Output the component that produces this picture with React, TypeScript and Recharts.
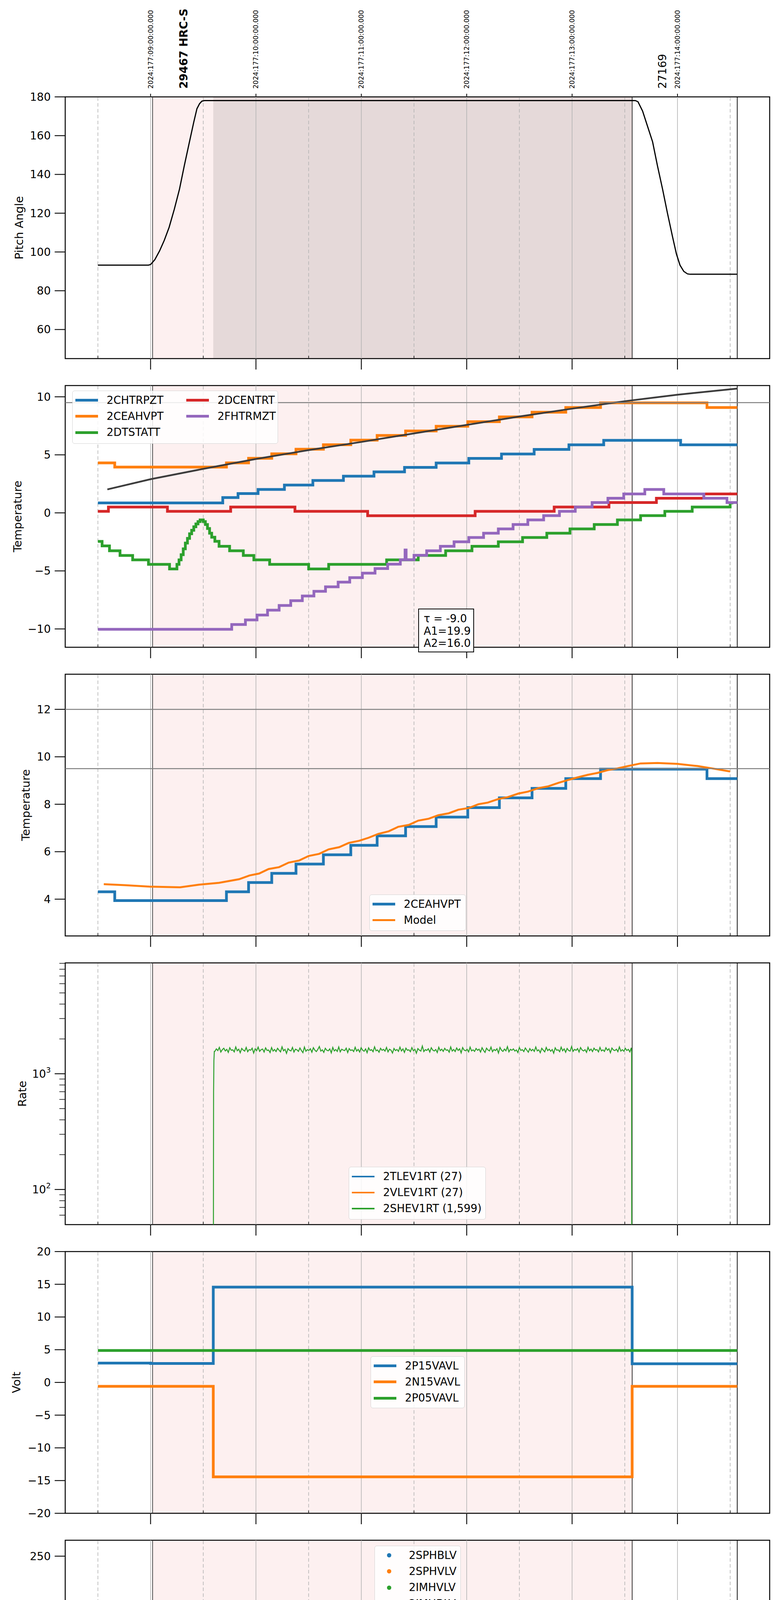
import React from "react";
import { ComposedChart, Line, Scatter, XAxis, YAxis, ReferenceLine, ReferenceArea, Legend } from "recharts";

const FONT = '"DejaVu Sans", sans-serif';
const BLUE = "#1f77b4";
const ORANGE = "#ff7f0e";
const GREEN = "#2ca02c";
const RED = "#d62728";
const PURPLE = "#9467bd";

// time axis, hours of 2024-06-25
const X_DOMAIN = [4.19, 10.875];
const X_TICKS = [4.5, 5, 5.5, 6, 6.5, 7, 7.5, 8, 8.5, 9, 9.5, 10, 10.5];
const HOUR_TICKS = [5, 6, 7, 8, 9, 10];
const HALF_TICKS = [4.5, 5.5, 6.5, 7.5, 8.5, 9.5, 10.5];
const HOUR_NAMES = ["05h", "06h", "07h", "08h", "09h", "10h"];
const UTC_LABELS = [
  "2024:177:09:00:00.000",
  "2024:177:10:00:00.000",
  "2024:177:11:00:00.000",
  "2024:177:12:00:00.000",
  "2024:177:13:00:00.000",
  "2024:177:14:00:00.000",
];
const OBS_T = [5.312, 9.858];
const OBS_NAMES = ["29467 HRC-S", "27169"];
const TOP_TICKS = [5, 5.312, 6, 7, 8, 9, 9.858, 10];
const HRC_ON = 5.019;
const SLEW_END = 5.595;
const HRC_OFF = 9.57;
const DATA_END = 10.567;

const PLOT_TOPS = [248, 987, 1726, 2465, 3204, 3943, 4682, 5421];
const PLOT_H = 670;

// ---- pitch
const PITCH_T = [4.5, 4.98, 5.0, 5.04, 5.085, 5.13, 5.176, 5.225, 5.274, 5.32, 5.369, 5.41, 5.44, 5.465, 5.487, 5.51, 9.6, 9.625, 9.669, 9.715, 9.764, 9.81, 9.859, 9.905, 9.953, 9.99, 10.024, 10.06, 10.095, 10.12, 10.567];
const PITCH_V = [93.2, 93.2, 93.5, 96, 100.5, 106, 112.7, 122, 132.3, 144.5, 156.8, 167, 173.9, 176.5, 177.8, 178.1, 178.1, 177.5, 172.7, 165, 156.8, 144.5, 132.3, 120, 107.9, 99, 93.2, 90, 88.7, 88.5, 88.5];

// ---- temperatures
const CHTRPZT_T = [4.5, 5.685, 5.83, 6.02, 6.27, 6.54, 6.83, 7.12, 7.41, 7.71, 8.02, 8.33, 8.64, 8.97, 9.3, 10.03];
const CHTRPZT_V = [0.86, 1.32, 1.66, 2.02, 2.4, 2.79, 3.16, 3.53, 3.92, 4.3, 4.69, 5.07, 5.47, 5.86, 6.25, 5.86];
const CEAHVPT_T = [4.5, 4.66, 5.72, 5.93, 6.15, 6.38, 6.64, 6.9, 7.15, 7.42, 7.71, 8.01, 8.31, 8.62, 8.94, 9.27, 10.28];
const CEAHVPT_V = [4.31, 3.94, 4.31, 4.7, 5.09, 5.48, 5.87, 6.27, 6.67, 7.06, 7.46, 7.86, 8.27, 8.67, 9.08, 9.48, 9.08];
const DTSTATT_T = [4.5, 4.54, 4.61, 4.71, 4.83, 4.98, 5.18, 5.25, 5.27, 5.29, 5.31, 5.33, 5.35, 5.37, 5.39, 5.41, 5.43, 5.45, 5.47, 5.5, 5.52, 5.54, 5.56, 5.58, 5.61, 5.65, 5.75, 5.88, 5.98, 6.13, 6.5, 6.69, 7.24, 7.54, 7.8, 8.05, 8.3, 8.53, 8.76, 8.98, 9.21, 9.43, 9.65, 9.88, 10.14, 10.5];
const DTSTATT_V = [-2.46, -2.85, -3.27, -3.67, -4.05, -4.44, -4.83, -4.44, -4.05, -3.6, -3.1, -2.6, -2.2, -1.8, -1.5, -1.2, -0.95, -0.75, -0.61, -0.75, -1.0, -1.35, -1.75, -2.1, -2.45, -2.88, -3.27, -3.67, -4.05, -4.44, -4.83, -4.44, -4.05, -3.67, -3.27, -2.88, -2.49, -2.12, -1.75, -1.38, -1.0, -0.61, -0.24, 0.13, 0.5, 0.86];
const DCENTRT_T = [4.5, 4.6, 5.16, 5.76, 6.37, 7.06, 8.08, 8.83, 9.35, 9.8, 10.25];
const DCENTRT_V = [0.13, 0.5, 0.13, 0.5, 0.13, -0.25, 0.13, 0.5, 0.89, 1.26, 1.63];
const FHTRMZT_T = [4.5, 5.77, 5.9, 6.01, 6.11, 6.22, 6.33, 6.44, 6.55, 6.66, 6.78, 6.89, 7.01, 7.13, 7.25, 7.37, 7.415, 7.425, 7.5, 7.62, 7.75, 7.88, 8.02, 8.16, 8.3, 8.44, 8.58, 8.73, 8.88, 9.03, 9.19, 9.34, 9.49, 9.69, 9.87, 10.25, 10.47];
const FHTRMZT_V = [-10.03, -9.62, -9.22, -8.8, -8.38, -7.98, -7.57, -7.16, -6.76, -6.37, -5.97, -5.58, -5.19, -4.8, -4.42, -4.04, -3.2, -4.04, -3.65, -3.27, -2.88, -2.49, -2.12, -1.75, -1.38, -1.0, -0.61, -0.24, 0.13, 0.5, 0.89, 1.26, 1.63, 2.02, 1.63, 1.26, 0.89];
const FIT_T = [4.59, 5.0, 5.5, 6.0, 6.5, 7.0, 7.5, 8.0, 8.5, 9.0, 9.5, 10.0, 10.567];
const FIT_V = [2.02, 2.9, 3.79, 4.64, 5.41, 6.11, 6.85, 7.58, 8.3, 8.98, 9.62, 10.18, 10.71];
const MODEL_T = [4.556, 4.754, 4.99, 5.28, 5.46, 5.65, 5.84, 5.94, 6.03, 6.12, 6.22, 6.31, 6.41, 6.5, 6.6, 6.69, 6.79, 6.88, 6.98, 7.07, 7.16, 7.26, 7.35, 7.45, 7.54, 7.64, 7.73, 7.83, 7.92, 8.02, 8.11, 8.2, 8.3, 8.39, 8.49, 8.58, 8.68, 8.77, 8.87, 8.96, 9.05, 9.15, 9.24, 9.34, 9.43, 9.53, 9.65, 9.81, 10.0, 10.19, 10.33, 10.5];
const MODEL_V = [4.63, 4.59, 4.53, 4.5, 4.61, 4.69, 4.84, 5.0, 5.08, 5.27, 5.35, 5.54, 5.63, 5.82, 5.91, 6.1, 6.19, 6.37, 6.46, 6.59, 6.75, 6.86, 7.05, 7.13, 7.31, 7.39, 7.54, 7.62, 7.77, 7.84, 8.0, 8.07, 8.22, 8.3, 8.45, 8.53, 8.68, 8.75, 8.9, 9.02, 9.13, 9.24, 9.32, 9.44, 9.51, 9.61, 9.72, 9.74, 9.7, 9.61, 9.51, 9.38];

// ---- rates
const LEV1_T = [4.5, 10.567];
const TLEV1_V = [27, 27];
const VLEV1_V = [27, 27];
const SHEV_EDGE_T = [5.596, 5.598, 5.601, 5.605];
const SHEV_EDGE_V = [20, 700, 1300, 1560];
const SHEV_T0 = 5.61;
const SHEV_T1 = 9.562;
const SHEV_V = [
  1560, 1640, 1585, 1690, 1540, 1615, 1660, 1575, 1625, 1530, 1680, 1595, 1610, 1545, 1705, 1580, 1630, 1520, 1655, 1600,
  1570, 1690, 1550, 1620, 1595, 1665, 1510, 1640, 1585, 1700, 1560, 1615, 1635, 1540, 1675, 1590, 1605, 1525, 1685, 1570,
  1620, 1555, 1660, 1600, 1545, 1710, 1580, 1625, 1500, 1650, 1595, 1575, 1690, 1540, 1630, 1610, 1560, 1670, 1585, 1520,
  1700, 1565, 1615, 1590, 1645, 1535, 1680, 1600, 1555, 1625, 1720, 1570, 1610, 1530, 1660, 1595, 1580, 1640, 1515, 1690,
  1575, 1620, 1560, 1705, 1545, 1630, 1600, 1585, 1665, 1525, 1650, 1590, 1610, 1555, 1695, 1570, 1625, 1540, 1680, 1600,
  1565, 1640, 1520, 1675, 1590, 1615, 1550, 1710, 1580, 1605, 1535, 1660, 1595, 1625, 1570, 1690, 1545, 1630, 1600, 1510,
  1655, 1585, 1620, 1560, 1700, 1575, 1640, 1530, 1665, 1595, 1610, 1550, 1685, 1580, 1625, 1505, 1650, 1600, 1570, 1735,
  1555, 1615, 1590, 1645, 1540, 1680, 1600, 1575, 1620, 1525, 1695, 1585, 1630, 1560, 1660, 1595, 1610, 1535, 1705, 1570,
  1620, 1555, 1670, 1590, 1640, 1515, 1685, 1600, 1580, 1625, 1545, 1700, 1575, 1610, 1560, 1655, 1595, 1630, 1540, 1680,
  1590, 1530, 1665, 1605, 1575, 1700, 1550, 1620, 1585, 1645, 1510, 1690, 1600, 1560, 1635, 1580, 1715, 1545, 1625, 1595,
  1640, 1570, 1605, 1525, 1685, 1590, 1615, 1555, 1670, 1600, 1535, 1650, 1580, 1625, 1560, 1705, 1575, 1610, 1520, 1660,
  1600, 1545, 1690, 1585, 1630, 1565, 1620, 1505, 1675, 1595, 1610, 1550, 1700, 1580, 1640, 1535, 1655, 1590, 1570, 1720,
  1560, 1625, 1595, 1650, 1540, 1685, 1605, 1575, 1615, 1530, 1695, 1580, 1635, 1555, 1665, 1600, 1620, 1545, 1690, 1575,
  1610, 1560, 1680, 1595, 1645, 1520, 1670, 1605, 1585, 1630, 1550, 1705, 1570, 1615, 1565, 1660, 1590, 1625, 1545, 1675,
];
const SHEV_END_T = [9.565, 9.566];
const SHEV_END_V = [1550, 20];
const LOG_TICKS = [60, 70, 80, 90, 100, 200, 300, 400, 500, 600, 700, 800, 900, 1000, 2000, 3000, 4000, 5000, 6000, 7000, 8000, 9000];

// ---- voltages
const P15_T = [4.5, 5.0, 5.595, 9.57];
const P15_V = [2.96, 2.9, 14.57, 2.85];
const N15_T = [4.5, 5.595, 9.57];
const N15_V = [-0.6, -14.43, -0.6];
const P05_T = [4.5];
const P05_V = [4.88];

// ---- HV monitor
const SPHBLV_T = [5.614, 5.624, 5.633, 5.643, 5.657, 5.666];
const SPHBLV_V = [118, 102, 97, 91.6, 86.5, 81.6];
const SPHBLV_RUN_T = [5.676, 9.565];
const SPHBLV_RUN_V = [77.5, 77.5];
const SPHVLV_T = [5.614, 5.614, 5.628, 5.638, 5.648, 5.661, 5.671, 8.0, 8.048, 8.077, 8.157, 8.228, 8.549, 8.644, 8.663];
const SPHVLV_V = [127.2, 124.5, 96.2, 91, 85.8, 80.7, 75.2, 127, 127, 127, 127, 127, 127, 127, 127];
const SPHVLV_RUN_T = [5.68, 9.565];
const SPHVLV_RUN_V = [71, 71];

// ---- detector temps (two noisy stretches sampled at common times)
const B1_T = [7.99, 8.0, 8.01, 8.02, 8.03, 8.04, 8.05, 8.06, 8.07, 8.08, 8.086, 8.09, 8.1, 8.11, 8.12, 8.13, 8.14, 8.15, 8.16, 8.17, 8.18, 8.19, 8.2, 8.21, 8.22, 8.23, 8.24];
const B2_T = [8.51, 8.52, 8.53, 8.54, 8.55, 8.56, 8.57, 8.58, 8.59, 8.6, 8.61, 8.62, 8.63, 8.64, 8.65, 8.66, 8.67, 8.68, 8.69];

const SPIN_PRE_T = [5.6, 5.652, 5.723, 5.794, 5.879, 6.007, 6.22, 7.92];
const SPIN_PRE_V = [4.68, 4.2, 3.66, 3.19, 2.7, 2.24, 1.75, 2.24];
const SPIN_B1 = [-5, 2.24, -5, 2.24, -5, 2.24, 2.24, 2.24, 2.24, 2.24, 2.24, 2.24, 2.24, 2.24, 2.24, 2.24, 2.24, 2.24, -5, 2.24, -5, 2.24, -5, 2.24, -5, 2.24, 2.24];
const SPIN_MID_T = [8.25];
const SPIN_MID_V = [2.24];
const SPIN_B2 = [2.24, -5, 2.24, -5, 2.24, -5, 2.24, -5, 2.24, -5, 2.24, -5, 2.24, -5, 2.24, -5, 2.24, -5, 2.24];
const SPIN_POST_T = [8.7, 9.33];
const SPIN_POST_V = [2.7, 3.19];

const SPHV_PRE_T = [5.59, 5.595, 5.746, 5.818, 5.89, 5.97, 6.05, 6.12, 6.22, 6.3, 6.41, 6.53, 6.67, 6.8, 6.95, 7.12, 7.28, 7.46, 7.65, 7.86];
const SPHV_PRE_V = [-5, 12.31, 12.65, 13.0, 13.33, 13.65, 13.99, 14.33, 14.68, 15.01, 15.36, 15.7, 16.05, 16.38, 16.74, 17.07, 17.42, 17.77, 18.14, 18.49];
const SPHV_B1 = [18.49, 9.1, 18.49, 9.1, 18.49, 9.1, 18.49, 9.1, 18.49, 9.1, -5, 18.6, 9.1, 18.6, 9.1, 18.6, 9.1, 18.6, 9.1, 18.6, -5, 18.84, 9.3, 18.84, 9.3, 18.84, 9.3];
const SPHV_MID_T = [8.25, 8.32];
const SPHV_MID_V = [18.84, 19.21];
const SPHV_B2 = [19.56, 9.64, 19.56, 9.64, 19.56, 9.64, 19.56, 9.64, 19.56, 9.64, 19.56, 9.64, 19.56, 9.64, 19.56, 9.64, 19.56, 9.64, 19.56];
const SPHV_POST_T = [8.7, 8.83, 9.11, 9.4, 9.565];
const SPHV_POST_V = [19.56, 19.94, 20.29, 20.63, 30];

const IMIN_PRE_T = [5.6];
const IMIN_PRE_V = [-0.05];
const IMIN_B1 = [2.32, -0.05, 2.32, -0.05, 2.32, -0.05, 2.32, -0.05, 2.32, -0.05, 2.32, -0.05, 2.32, -0.05, 2.32, -0.05, 2.32, -0.05, 2.32, -0.05, 2.32, -0.05, 2.32, -0.05, 2.32, -0.05, 2.32];
const IMIN_MID_T = [8.25, 8.33];
const IMIN_MID_V = [-0.05, 0.41];
const IMIN_B2 = [2.32, 0.41, 2.32, 0.41, 2.32, 0.41, 2.32, 0.41, 2.32, 0.41, 2.32, 0.41, 2.32, 0.41, 2.32, 0.41, 2.32, 0.41, 2.32];
const IMIN_POST_T = [8.7, 9.4, 9.56];
const IMIN_POST_V = [0.41, 0.84, 30];

const IMHV_PRE_T = [5.59, 5.595, 6.134, 6.41, 6.65, 6.88, 7.12, 7.35, 7.59, 7.83];
const IMHV_PRE_V = [-5, 11.66, 11.98, 12.31, 12.62, 12.97, 13.3, 13.65, 13.99, 14.33];
const IMHV_B1 = [-5, 18.6, 14.6, 18.9, 14.6, 18.9, 14.6, 18.9, 14.6, 18.9, -5, 18.9, 14.6, 18.9, 14.6, 18.9, 14.6, 18.9, 14.6, 18.9, -5, 18.9, 14.6, 18.9, 14.6, 18.9, 14.6];
const IMHV_MID_T = [8.25, 8.32];
const IMHV_MID_V = [14.65, 14.98];
const IMHV_B2 = [19.6, 15.3, 19.6, 15.3, 19.6, 15.3, 19.6, 15.3, 19.6, 15.3, 19.6, 15.3, 19.6, 15.3, 19.6, 15.3, 19.6, 15.3, 19.6];
const IMHV_POST_T = [8.7, 8.83, 9.1, 9.38, 9.57, 9.575];
const IMHV_POST_V = [15.36, 15.7, 16.02, 16.38, 30, -30];

// ---- FEA temps
const FRADPYT_T = [6.145, 6.15, 6.26, 6.375, 6.48, 6.61, 6.72, 6.84, 6.96, 7.085, 7.217, 7.35, 7.48, 7.61, 7.75, 7.89, 8.02, 8.2, 8.34, 8.49, 8.64, 8.79, 8.96, 9.13, 9.29, 9.47, 9.83, 9.97, 10.07, 10.17, 10.27, 10.39, 10.53];
const FRADPYT_V = [-12, -9.62, -9.21, -8.8, -8.38, -7.99, -7.57, -7.16, -6.76, -6.37, -5.97, -5.58, -5.18, -4.79, -4.42, -4.04, -3.64, -3.25, -2.87, -2.53, -2.14, -1.76, -1.37, -1.0, -0.61, -0.23, 0.14, -0.23, -0.61, -1.0, -1.37, -1.76, -2.14];

const FEPR_PRE_T = [5.65, 5.7, 5.745, 5.795, 5.846, 5.93, 6.02, 6.11, 6.21, 6.32, 6.43, 6.54, 6.66, 6.78, 6.9, 7.035, 7.17, 7.3, 7.44, 7.58, 7.72, 7.87];
const FEPR_PRE_V = [-9.75, -9.37, -9.0, -8.62, -8.11, -7.7, -7.28, -6.86, -6.45, -6.04, -5.62, -5.2, -4.79, -4.36, -3.94, -3.53, -3.12, -2.7, -2.26, -1.83, -1.4, -0.96];
const FEPR_B1 = [-0.96, -0.96, -0.96, -9.0, -0.5, -9.0, -0.5, -9.0, -0.5, -9.0, -0.5, -9.0, -0.5, -9.0, -0.5, -9.0, -0.5, -9.0, -0.5, -9.0, -0.5, -9.0, -0.5, -9.0, -0.5, -9.0, -0.5];
const FEPR_MID_T = [8.25, 8.36];
const FEPR_MID_V = [-0.1, 0.35];
const FEPR_B2 = [-9.0, 0.82, -9.0, 0.82, 0.82, 0.82, 0.82, 0.82, 0.82, 0.82, 0.82, 0.82, -9.0, 0.82, -9.0, 0.82, 0.82, 0.82, 0.82];
const FEPR_POST_T = [8.7, 8.86, 9.03, 9.23, 9.43];
const FEPR_POST_V = [1.27, 1.73, 2.18, 2.62, 3.05];

const FE00_PRE_T = [5.99, 6.01, 6.11, 6.18, 6.25, 6.34, 6.43, 6.52, 6.61, 6.7, 6.79, 6.89, 6.98, 7.08, 7.125, 7.135, 7.18, 7.27, 7.37, 7.47, 7.59, 7.68, 7.715, 7.725, 7.79, 7.89];
const FE00_PRE_V = [-12, -9.68, -9.29, -8.89, -8.58, -8.22, -7.83, -7.47, -7.12, -6.76, -6.41, -6.04, -5.7, -5.34, -5.75, -5.34, -4.99, -4.67, -4.3, -3.99, -3.65, -3.29, -3.99, -3.29, -2.96, -2.62];
const FE00_B1 = [-12, 5, -2.3, 5, -2.3, 5, -2.3, 5, -2.3, 5, -12, 5, -2.3, 5, -2.3, 5, -2.3, 5, -2.3, 5, -12, 5, -2.3, 5, -2.3, 5, -2.3];
const FE00_MID_T = [8.25, 8.32, 8.45];
const FE00_MID_V = [-1.75, -1.29, -0.95];
const FE00_B2 = [5, -0.7, 5, -0.7, 5, -0.7, 5, -0.7, 5, -0.7, 5, -0.7, 5, -0.7, 5, -0.7, 5, -0.7, 5];
const FE00_POST_T = [8.7, 8.82, 8.94, 9.05, 9.17, 9.31, 9.43, 9.57, 9.575];
const FE00_POST_V = [-0.29, 0.04, 0.35, 0.7, 1.01, 1.34, 1.68, 5, -12];

// ---------- helpers
const zip = (ts: number[], vs: number[]) => ts.map((t, i) => ({ t, v: vs[i] }));
const stepPts = (ts: number[], vs: number[], end: number) => [...zip(ts, vs), { t: end, v: vs[vs.length - 1] }];
const joinSteps = (parts: [number[], number[]][], end: number) =>
  stepPts(parts.flatMap((p) => p[0]), parts.flatMap((p) => p[1]), end);

// samples of 2SHEV1RT are evenly spaced in time between SHEV_T0 and SHEV_T1
const shevDt = (SHEV_T1 - SHEV_T0) / (SHEV_V.length - 1);
const shevData = [
  ...zip(SHEV_EDGE_T, SHEV_EDGE_V),
  ...SHEV_V.map((v, i) => ({ t: SHEV_T0 + i * shevDt, v })),
  ...zip(SHEV_END_T, SHEV_END_V),
];

const minus = (s: string) => s.replace("-", "\u2212");
const fmtInt = (v: number) => minus(String(v));
const fmt1 = (v: number) => minus(v.toFixed(1));

function series(key: string, data: any[], color: string, width: number, type: any = "stepAfter") {
  return (
    <Line
      key={key}
      data={data}
      dataKey="v"
      type={type}
      stroke={color}
      strokeWidth={width}
      dot={false}
      activeDot={false}
      isAnimationActive={false}
    />
  );
}

function BottomTick(props: any) {
  const { x, y, payload, labels } = props;
  const v = payload.value;
  const hour = Math.abs(v - Math.round(v)) < 1e-6;
  return (
    <g>
      {hour ? (
        <line x1={x} x2={x} y1={y} y2={y + 28} stroke="#000" strokeWidth={2.2} />
      ) : (
        <line x1={x} x2={x} y1={y} y2={y - 7} stroke="#000" strokeWidth={1.5} />
      )}
      {labels && hour && (
        <text x={x} y={y + 59} textAnchor="middle" fontSize={28} fontFamily={FONT} fill="#000">
          {HOUR_NAMES[Math.round(v) - 5]}
        </text>
      )}
      {labels && !hour && (
        <text x={x} y={y + 21} textAnchor="middle" fontSize={18} fontFamily={FONT} fill="#000">
          30
        </text>
      )}
    </g>
  );
}

function TopTick(props: any) {
  const { x, y, payload } = props;
  const v = payload.value;
  const hi = HOUR_TICKS.indexOf(v);
  const ay = y - 21;
  if (hi >= 0) {
    return (
      <g>
        <line x1={x} x2={x} y1={y} y2={y - 8} stroke="#000" strokeWidth={2} />
        <text x={x} y={ay} dy="0.35em" transform={`rotate(-90 ${x} ${ay})`} fontSize={17} fontFamily={FONT} fill="#000">
          {UTC_LABELS[hi]}
        </text>
      </g>
    );
  }
  const oi = OBS_T.indexOf(v);
  return (
    <text
      x={x}
      y={ay}
      dy="0.35em"
      transform={`rotate(-90 ${x} ${ay})`}
      fontSize={28}
      fontWeight={oi === 0 ? "bold" : "normal"}
      fontFamily={FONT}
      fill="#000"
    >
      {OBS_NAMES[oi]}
    </text>
  );
}

function LogTick(props: any) {
  const { x, y, payload } = props;
  const v = payload.value;
  const major = v === 100 || v === 1000;
  return (
    <g>
      <line x1={x} x2={x - (major ? 27 : 15)} y1={y} y2={y} stroke="#000" strokeWidth={major ? 2.2 : 1.5} />
      {major && (
        <text x={x - 37} y={y} dy="0.35em" textAnchor="end" fontSize={28} fontFamily={FONT} fill="#000">
          10
          <tspan dy={-13} fontSize={19}>
            {v === 100 ? "2" : "3"}
          </tspan>
        </text>
      )}
    </g>
  );
}

type Item = { name: string; color: string; lw?: number; dot?: boolean };

function LegendBox({ items, width, height, rows, colW }: { items: Item[]; width: number; height: number; rows: number; colW?: number }) {
  return (
    <div
      style={{
        position: "relative",
        width,
        height,
        boxSizing: "border-box",
        border: "1.5px solid #d3d3d3",
        borderRadius: 6,
        background: "rgba(255,255,255,0.85)",
        fontFamily: FONT,
        fontSize: 27.5,
        color: "#000",
      }}
    >
      {items.map((it, i) => {
        const col = Math.floor(i / rows);
        const row = i % rows;
        return (
          <div
            key={it.name}
            style={{
              position: "absolute",
              left: 7 + col * (colW || 0),
              top: 3 + row * 41.3,
              height: 41,
              display: "flex",
              alignItems: "center",
              whiteSpace: "nowrap",
            }}
          >
            <div style={{ width: 58, height: 41, display: "flex", alignItems: "center", justifyContent: "center" }}>
              {it.dot ? (
                <div style={{ width: 11, height: 11, borderRadius: "50%", background: it.color }} />
              ) : (
                <div style={{ width: 58, height: it.lw || 7, background: it.color }} />
              )}
            </div>
            <span style={{ marginLeft: 22, lineHeight: 1 }}>{it.name}</span>
          </div>
        );
      })}
    </div>
  );
}

type LegendSpec = { left: number; top: number; width: number; height: number; rows: number; colW?: number; items: Item[] };

function Panel(props: {
  idx: number;
  yDomain: number[];
  yTicks?: number[];
  yFmt?: (v: number) => string;
  yLabel: string;
  yLabelX: number;
  log?: boolean;
  darkBand?: boolean;
  legend?: LegendSpec;
  overlay?: React.ReactNode;
  children?: React.ReactNode;
}) {
  const { idx, yDomain, yTicks, yFmt, yLabel, yLabelX, log, darkBand, legend, overlay, children } = props;
  const first = idx === 0;
  const last = idx === 7;
  const mTop = first ? 8 : 20;
  const topH = first ? 240 : 0;
  const botH = last ? 109 : 44;
  const plotTopRel = mTop + topH;
  const divTop = PLOT_TOPS[idx] - plotTopRel;
  const h = plotTopRel + PLOT_H + botH;
  const yLab = () => (
    <text
      x={yLabelX}
      y={plotTopRel + PLOT_H / 2}
      dy="0.35em"
      textAnchor="middle"
      transform={`rotate(-90 ${yLabelX} ${plotTopRel + PLOT_H / 2})`}
      fontSize={29}
      fontFamily={FONT}
      fill="#000"
    >
      {yLabel}
    </text>
  );

  return (
    <div style={{ position: "absolute", left: 0, top: divTop, width: 2000, height: h }}>
      <ComposedChart width={2000} height={h} margin={{ top: mTop, right: 29, bottom: 0, left: 67 }}>
        {first && (
          <XAxis
            xAxisId="top"
            orientation="top"
            type="number"
            dataKey="t"
            domain={X_DOMAIN}
            allowDataOverflow
            ticks={TOP_TICKS}
            interval={0}
            height={topH}
            tickSize={0}
            tickMargin={0}
            tickLine={false}
            axisLine={false}
            tick={(p: any) => <TopTick {...p} />}
          />
        )}
        <XAxis
          type="number"
          dataKey="t"
          domain={X_DOMAIN}
          allowDataOverflow
          ticks={X_TICKS}
          interval={0}
          height={botH}
          tickSize={0}
          tickMargin={0}
          tickLine={false}
          axisLine={false}
          tick={(p: any) => <BottomTick {...p} labels={last} />}
          label={
            last
              ? () => (
                  <text x={1069} y={plotTopRel + PLOT_H + 97} textAnchor="middle" fontSize={31} fontFamily={FONT} fill="#000">
                    2024-06-25 (177)
                  </text>
                )
              : undefined
          }
        />
        {log ? (
          <YAxis
            scale="log"
            domain={yDomain}
            allowDataOverflow
            ticks={LOG_TICKS}
            interval={0}
            width={100}
            tickSize={0}
            tickMargin={0}
            tickLine={false}
            axisLine={false}
            tick={(p: any) => <LogTick {...p} />}
            label={yLab}
          />
        ) : (
          <YAxis
            type="number"
            domain={yDomain}
            allowDataOverflow
            ticks={yTicks}
            interval={0}
            width={100}
            tickSize={27}
            tickMargin={10}
            tickLine={{ stroke: "#000", strokeWidth: 2.2 }}
            axisLine={false}
            tickFormatter={yFmt || fmtInt}
            tick={{ fontSize: 28, fill: "#000", fontFamily: FONT }}
            label={yLab}
          />
        )}
        <ReferenceArea x1={HRC_ON} x2={HRC_OFF} fill="#fdf0f0" fillOpacity={1} stroke="none" />
        {darkBand && <ReferenceArea x1={SLEW_END} x2={HRC_OFF} fill="#e5d9d9" fillOpacity={1} stroke="none" />}
        {HALF_TICKS.map((t) => (
          <ReferenceLine key={"half" + t} x={t} stroke="#b3b3b3" strokeWidth={1.6} strokeDasharray="9 6" />
        ))}
        {HOUR_TICKS.map((t) => (
          <ReferenceLine key={"hour" + t} x={t} stroke="#b3b3b3" strokeWidth={1.6} />
        ))}
        <ReferenceLine x={HRC_ON} stroke="#3a3a3a" strokeWidth={1.8} />
        <ReferenceLine x={HRC_OFF} stroke="#222" strokeWidth={1.8} />
        <ReferenceLine x={DATA_END} stroke="#000" strokeWidth={1.8} />
        {children}
        <ReferenceArea
          x1={X_DOMAIN[0]}
          x2={X_DOMAIN[1]}
          y1={yDomain[0]}
          y2={yDomain[1]}
          fill="none"
          stroke="#000"
          strokeWidth={2.5}
          ifOverflow="visible"
        />
        {legend && (
          <Legend
            layout="vertical"
            align="center"
            verticalAlign="middle"
            wrapperStyle={{ left: legend.left, top: legend.top - divTop, width: legend.width, height: legend.height }}
            content={() => (
              <LegendBox items={legend.items} width={legend.width} height={legend.height} rows={legend.rows} colW={legend.colW} />
            )}
          />
        )}
      </ComposedChart>
      {overlay}
    </div>
  );
}

export default function App() {
  return (
    <div style={{ position: "absolute", left: 0, top: 0, width: 2000, height: 6200, background: "#fff", fontFamily: FONT }}>
      <Panel idx={0} yDomain={[45, 180]} yTicks={[60, 80, 100, 120, 140, 160, 180]} yLabel="Pitch Angle" yLabelX={49} darkBand>
        {series("pitch", zip(PITCH_T, PITCH_V), "#000", 3, "linear")}
      </Panel>

      <Panel
        idx={1}
        yDomain={[-11.58, 10.97]}
        yTicks={[-10, -5, 0, 5, 10]}
        yLabel="Temperature"
        yLabelX={45}
        legend={{
          left: 185,
          top: 1000,
          width: 527,
          height: 136,
          rows: 3,
          colW: 284,
          items: [
            { name: "2CHTRPZT", color: BLUE },
            { name: "2CEAHVPT", color: ORANGE },
            { name: "2DTSTATT", color: GREEN },
            { name: "2DCENTRT", color: RED },
            { name: "2FHTRMZT", color: PURPLE },
          ],
        }}
        overlay={
          <div
            style={{
              position: "absolute",
              left: 1071,
              top: 1558 - 967,
              width: 143,
              height: 112,
              boxSizing: "border-box",
              border: "2px solid #000",
              background: "#fff",
              padding: "8px 0 0 12px",
              fontFamily: FONT,
              fontSize: 27.5,
              lineHeight: "31.5px",
              color: "#000",
              whiteSpace: "nowrap",
            }}
          >
            <div>τ = -9.0</div>
            <div>A1=19.9</div>
            <div>A2=16.0</div>
          </div>
        }
      >
        {series("chtrpzt", stepPts(CHTRPZT_T, CHTRPZT_V, DATA_END), BLUE, 7)}
        {series("ceahvpt", stepPts(CEAHVPT_T, CEAHVPT_V, DATA_END), ORANGE, 7)}
        {series("dtstatt", stepPts(DTSTATT_T, DTSTATT_V, 10.53), GREEN, 7)}
        {series("dcentrt", stepPts(DCENTRT_T, DCENTRT_V, DATA_END), RED, 7)}
        {series("fhtrmzt", stepPts(FHTRMZT_T, FHTRMZT_V, DATA_END), PURPLE, 7)}
        {series("fit", zip(FIT_T, FIT_V), "#3c3c3c", 4.5, "linear")}
        <ReferenceLine y={9.5} stroke="#808080" strokeWidth={2.5} />
      </Panel>

      <Panel
        idx={2}
        yDomain={[2.45, 13.48]}
        yTicks={[4, 6, 8, 10, 12]}
        yLabel="Temperature"
        yLabelX={66}
        legend={{
          left: 946,
          top: 2290,
          width: 247,
          height: 93,
          rows: 2,
          items: [
            { name: "2CEAHVPT", color: BLUE },
            { name: "Model", color: ORANGE, lw: 5 },
          ],
        }}
      >
        {series("ceahvpt3", stepPts(CEAHVPT_T, CEAHVPT_V, DATA_END), BLUE, 7)}
        {series("model", zip(MODEL_T, MODEL_V), ORANGE, 5, "linear")}
        <ReferenceLine y={12} stroke="#808080" strokeWidth={2.5} />
        <ReferenceLine y={9.5} stroke="#808080" strokeWidth={2.5} />
      </Panel>

      <Panel
        idx={3}
        log
        yDomain={[49.7, 9080]}
        yLabel="Rate"
        yLabelX={57}
        legend={{
          left: 893,
          top: 2987,
          width: 351,
          height: 135,
          rows: 3,
          items: [
            { name: "2TLEV1RT (27)", color: BLUE, lw: 4 },
            { name: "2VLEV1RT (27)", color: ORANGE, lw: 4 },
            { name: "2SHEV1RT (1,599)", color: GREEN, lw: 4 },
          ],
        }}
      >
        {series("tlev", zip(LEV1_T, TLEV1_V), BLUE, 2.5, "linear")}
        {series("vlev", zip(LEV1_T, VLEV1_V), ORANGE, 2.5, "linear")}
        {series("shev", shevData, GREEN, 2.5, "linear")}
      </Panel>

      <Panel
        idx={4}
        yDomain={[-20, 20]}
        yTicks={[-20, -15, -10, -5, 0, 5, 10, 15, 20]}
        yLabel="Volt"
        yLabelX={42}
        legend={{
          left: 949,
          top: 3472,
          width: 241,
          height: 133,
          rows: 3,
          items: [
            { name: "2P15VAVL", color: BLUE },
            { name: "2N15VAVL", color: ORANGE },
            { name: "2P05VAVL", color: GREEN },
          ],
        }}
      >
        {series("p15", stepPts(P15_T, P15_V, DATA_END), BLUE, 7)}
        {series("n15", stepPts(N15_T, N15_V, DATA_END), ORANGE, 7)}
        {series("p05", stepPts(P05_T, P05_V, DATA_END), GREEN, 7)}
      </Panel>

      <Panel
        idx={5}
        yDomain={[0, 266.2]}
        yTicks={[0, 50, 100, 150, 200, 250]}
        yLabel="HV Monitor"
        yLabelX={49}
        legend={{
          left: 959,
          top: 3957,
          width: 221,
          height: 176,
          rows: 4,
          items: [
            { name: "2SPHBLV", color: BLUE, dot: true },
            { name: "2SPHVLV", color: ORANGE, dot: true },
            { name: "2IMHVLV", color: GREEN, dot: true },
            { name: "2IMHBLV", color: RED, dot: true },
          ],
        }}
      >
        <Line
          key="sphblv-run"
          data={zip(SPHBLV_RUN_T, SPHBLV_RUN_V)}
          dataKey="v"
          type="linear"
          stroke={BLUE}
          strokeWidth={13}
          strokeLinecap="round"
          dot={false}
          activeDot={false}
          isAnimationActive={false}
        />
        <Scatter
          key="sphblv"
          data={zip(SPHBLV_T, SPHBLV_V)}
          dataKey="v"
          fill={BLUE}
          isAnimationActive={false}
          shape={(p: any) => <circle cx={p.cx} cy={p.cy} r={6} fill={BLUE} />}
        />
        <Line
          key="sphvlv-run"
          data={zip(SPHVLV_RUN_T, SPHVLV_RUN_V)}
          dataKey="v"
          type="linear"
          stroke={ORANGE}
          strokeWidth={13}
          strokeLinecap="round"
          dot={false}
          activeDot={false}
          isAnimationActive={false}
        />
        <Scatter
          key="sphvlv"
          data={zip(SPHVLV_T, SPHVLV_V)}
          dataKey="v"
          fill={ORANGE}
          isAnimationActive={false}
          shape={(p: any) => <circle cx={p.cx} cy={p.cy} r={6} fill={ORANGE} />}
        />
      </Panel>

      <Panel
        idx={6}
        yDomain={[-1.6, 20.7]}
        yTicks={[0, 2.5, 5, 7.5, 10, 12.5, 15, 17.5, 20]}
        yFmt={fmt1}
        yLabel="Detector Temp"
        yLabelX={41}
        legend={{
          left: 946,
          top: 4929,
          width: 247,
          height: 176,
          rows: 4,
          items: [
            { name: "2SPINATM", color: BLUE },
            { name: "2SPHVATM", color: ORANGE },
            { name: "2IMINATM", color: GREEN },
            { name: "2IMHVATM", color: RED },
          ],
        }}
      >
        {series(
          "spin",
          joinSteps([[SPIN_PRE_T, SPIN_PRE_V], [B1_T, SPIN_B1], [SPIN_MID_T, SPIN_MID_V], [B2_T, SPIN_B2], [SPIN_POST_T, SPIN_POST_V]], 9.555),
          BLUE,
          7
        )}
        {series(
          "sphv",
          joinSteps([[SPHV_PRE_T, SPHV_PRE_V], [B1_T, SPHV_B1], [SPHV_MID_T, SPHV_MID_V], [B2_T, SPHV_B2], [SPHV_POST_T, SPHV_POST_V]], 9.57),
          ORANGE,
          7
        )}
        {series(
          "imin",
          joinSteps([[IMIN_PRE_T, IMIN_PRE_V], [B1_T, IMIN_B1], [IMIN_MID_T, IMIN_MID_V], [B2_T, IMIN_B2], [IMIN_POST_T, IMIN_POST_V]], 9.57),
          GREEN,
          7
        )}
        {series(
          "imhv",
          joinSteps([[IMHV_PRE_T, IMHV_PRE_V], [B1_T, IMHV_B1], [IMHV_MID_T, IMHV_MID_V], [B2_T, IMHV_B2], [IMHV_POST_T, IMHV_POST_V]], 9.58),
          RED,
          7
        )}
      </Panel>

      <Panel
        idx={7}
        yDomain={[-9.9, 2.29]}
        yTicks={[-8, -6, -4, -2, 0, 2]}
        yLabel="FEA Temp"
        yLabelX={61}
        legend={{
          left: 1707,
          top: 5901,
          width: 248,
          height: 176,
          rows: 4,
          items: [
            { name: "2FHTRMZT", color: BLUE },
            { name: "2FRADPYT", color: ORANGE },
            { name: "2FEPRATM", color: GREEN },
            { name: "2FE00ATM", color: RED },
          ],
        }}
      >
        {series("fhtrmzt8", stepPts(FHTRMZT_T, FHTRMZT_V, DATA_END), BLUE, 7)}
        {series("fradpyt", stepPts(FRADPYT_T, FRADPYT_V, DATA_END), ORANGE, 7)}
        {series(
          "fepr",
          joinSteps([[FEPR_PRE_T, FEPR_PRE_V], [B1_T, FEPR_B1], [FEPR_MID_T, FEPR_MID_V], [B2_T, FEPR_B2], [FEPR_POST_T, FEPR_POST_V]], 9.565),
          GREEN,
          7
        )}
        {series(
          "fe00",
          joinSteps([[FE00_PRE_T, FE00_PRE_V], [B1_T, FE00_B1], [FE00_MID_T, FE00_MID_V], [B2_T, FE00_B2], [FE00_POST_T, FE00_POST_V]], 9.58),
          RED,
          7
        )}
      </Panel>
    </div>
  );
}
